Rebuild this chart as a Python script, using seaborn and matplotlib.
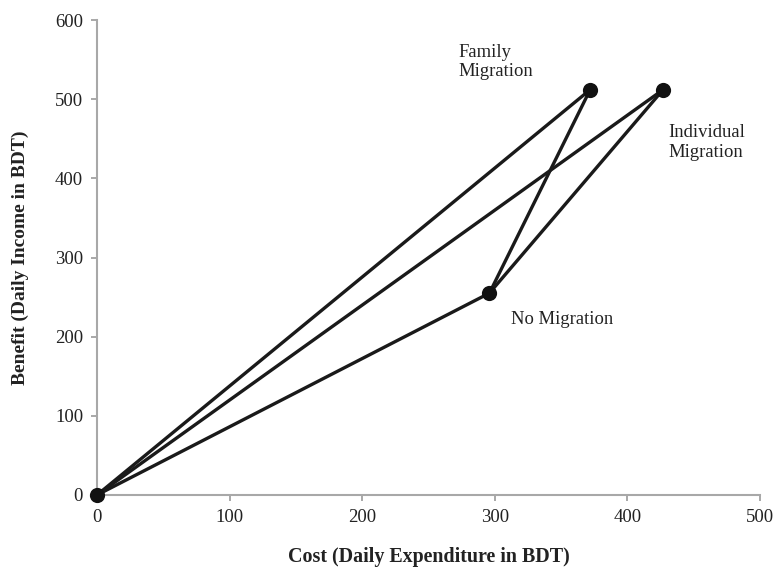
import matplotlib
matplotlib.use("Agg")
import matplotlib.pyplot as plt
import seaborn as sns
import pandas as pd

# Scenario points: daily cost vs daily benefit (BDT)
scenarios = ["Origin", "No Migration", "Family Migration", "Individual Migration"]
cost = [0, 296, 372, 427]
benefit = [0, 255, 512, 512]

# Line segments connecting scenarios (index pairs into the lists above)
segments = [(0, 1), (0, 2), (0, 3), (1, 2), (1, 3)]

x_ticks = [0, 100, 200, 300, 400, 500]
y_ticks = [0, 100, 200, 300, 400, 500, 600]

sns.set_theme(style="white")
plt.rcParams["font.family"] = ["Liberation Serif", "DejaVu Serif"]

fig = plt.figure(figsize=(7.73, 5.67), dpi=100)
ax = fig.add_axes([0.1255, 0.127, 0.8575, 0.8377])

rows = []
for k, (i, j) in enumerate(segments):
    rows.append({"seg": k, "cost": cost[i], "benefit": benefit[i]})
    rows.append({"seg": k, "cost": cost[j], "benefit": benefit[j]})
seg_df = pd.DataFrame(rows)

sns.lineplot(data=seg_df, x="cost", y="benefit", units="seg", estimator=None,
             sort=False, color="#1a1a1a", linewidth=2.4, ax=ax, legend=False)

pts = pd.DataFrame({"scenario": scenarios, "cost": cost, "benefit": benefit})
sns.scatterplot(data=pts, x="cost", y="benefit", color="#111111", s=120,
                edgecolor="#111111", linewidth=0, ax=ax, zorder=5, clip_on=False,
                legend=False)

ax.text(273, 547, "Family\nMigration", fontsize=13.4, ha="left", va="center",
        color="#222222", linespacing=1.2)
ax.text(431, 445, "Individual\nMigration", fontsize=13.4, ha="left", va="center",
        color="#222222", linespacing=1.2)
ax.text(312, 222, "No Migration", fontsize=13.4, ha="left", va="center",
        color="#222222")

ax.set_xlim(0, 500)
ax.set_ylim(0, 600)
ax.set_xticks(x_ticks)
ax.set_yticks(y_ticks)
ax.tick_params(axis="both", which="major", labelsize=13.5, colors="#999999",
               labelcolor="#222222", length=4, width=1.2, direction="out",
               bottom=True, left=True, pad=6)

for side in ["top", "right"]:
    ax.spines[side].set_visible(False)
for side in ["left", "bottom"]:
    ax.spines[side].set_color("#a8a8a8")
    ax.spines[side].set_linewidth(1.5)

ax.set_xlabel("Cost (Daily Expenditure in BDT)", fontsize=14.4, fontweight="bold",
              color="#222222", labelpad=15)
ax.set_ylabel("Benefit (Daily Income in BDT)", fontsize=14, fontweight="bold",
              color="#222222", labelpad=19)

fig.savefig("out.png", dpi=100, facecolor="white")
